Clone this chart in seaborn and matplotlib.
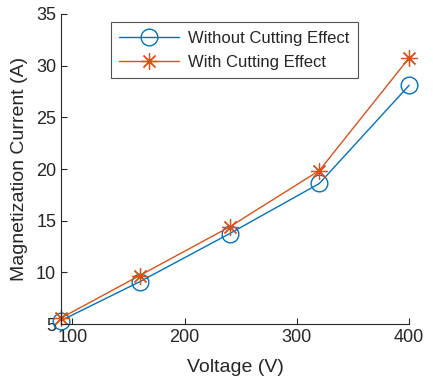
import matplotlib
matplotlib.use("Agg")
import matplotlib.pyplot as plt
import seaborn as sns
import pandas as pd

voltage = [90, 160, 240, 320, 400]
without_cut = [5.35, 9.1, 13.75, 18.6, 28.1]
with_cut = [5.6, 9.7, 14.4, 19.85, 30.75]
labels = ["Without Cutting Effect", "With Cutting Effect"]

sns.set_style("ticks")
plt.rcParams['font.family'] = ['Liberation Sans', 'DejaVu Sans']

fig = plt.figure(figsize=(4.33, 3.85), dpi=100)
ax = fig.add_axes([0.141, 0.158, 0.804, 0.806])

blue = "#0072BD"
orange = "#D95319"

df1 = pd.DataFrame({"V": voltage, "I": without_cut})
df2 = pd.DataFrame({"V": voltage, "I": with_cut})
sns.lineplot(data=df1, x="V", y="I", ax=ax, color=blue, lw=1.0, marker="o",
             markersize=12, markerfacecolor="none", markeredgecolor=blue,
             markeredgewidth=1.0, label=labels[0], clip_on=False)
sns.lineplot(data=df2, x="V", y="I", ax=ax, color=orange, lw=1.0, marker=(8, 2, 0),
             markersize=12, markeredgecolor=orange, markeredgewidth=0.9,
             label=labels[1], clip_on=False)

ax.set_xlim(90, 400)
ax.set_ylim(5, 35)
ax.set_xticks([100, 200, 300, 400])
ax.set_yticks([5, 10, 15, 20, 25, 30, 35])
ax.set_xlabel("Voltage (V)", fontsize=14, color="#262626", labelpad=9)
ax.set_ylabel("Magnetization Current (A)", fontsize=14, color="#262626", labelpad=6)
ax.tick_params(direction="in", length=4, labelsize=13, colors="#262626", width=0.8)
for s in ["top", "right"]:
    ax.spines[s].set_visible(False)
for s in ["left", "bottom"]:
    ax.spines[s].set_color("#262626")
    ax.spines[s].set_linewidth(0.8)

leg = ax.legend(loc="upper left", bbox_to_anchor=(0.12, 1.0), fontsize=12,
                frameon=True, fancybox=False, edgecolor="#262626",
                handlelength=3.6, borderpad=0.5, labelspacing=0.55, handletextpad=0.5)
leg.get_frame().set_linewidth(0.8)

fig.savefig("out.png", dpi=100)
